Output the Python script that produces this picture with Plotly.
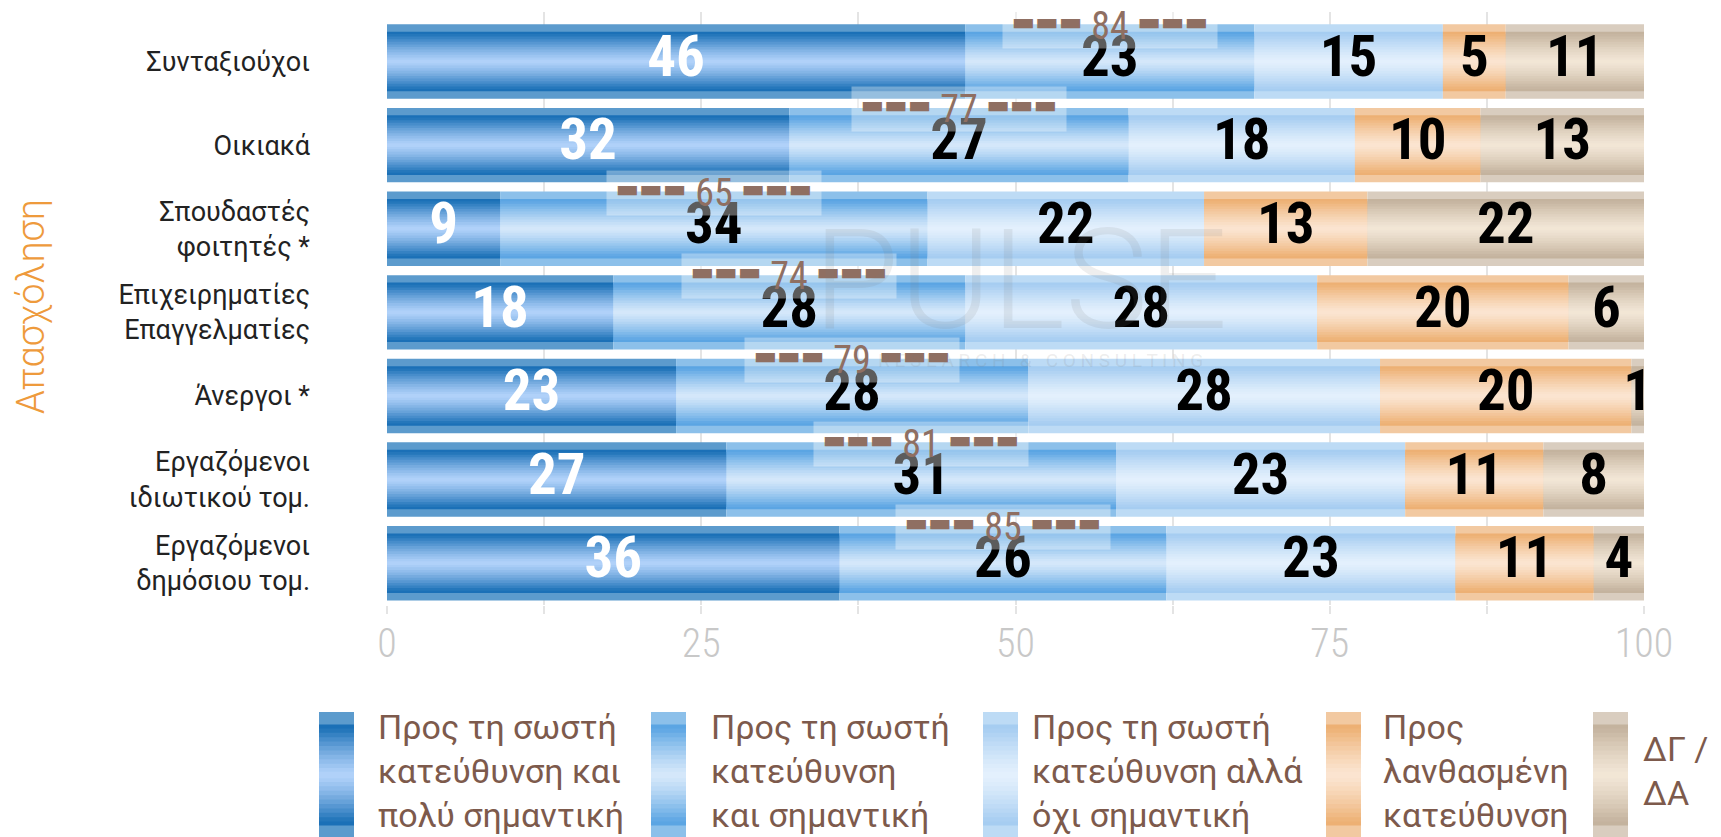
import plotly.graph_objects as go

# ---------------- data ----------------
categories = ["Συνταξιούχοι", "Οικιακά", "Σπουδαστές<br>φοιτητές *",
              "Επιχειρηματίες<br>Επαγγελματίες", "Άνεργοι *",
              "Εργαζόμενοι<br>ιδιωτικού τομ.", "Εργαζόμενοι<br>δημόσιου τομ."]
right_very_important = [46, 32, 9, 18, 23, 27, 36]
right_important = [23, 27, 34, 28, 28, 31, 26]
right_not_important = [15, 18, 22, 28, 28, 23, 23]
wrong_direction = [5, 10, 13, 20, 20, 11, 11]
dont_know = [11, 13, 22, 6, 1, 8, 4]
series_names = ["Προς τη σωστή<br>κατεύθυνση και<br>πολύ σημαντική",
                "Προς τη σωστή<br>κατεύθυνση<br>και σημαντική",
                "Προς τη σωστή<br>κατεύθυνση αλλά<br>όχι σημαντική",
                "Προς<br>λανθασμένη<br>κατεύθυνση",
                "ΔΓ /<br>ΔΑ"]
axis_title = "Απασχόληση"
x_ticks = [0, 25, 50, 75, 100]

series = [right_very_important, right_important, right_not_important,
          wrong_direction, dont_know]

# ---------------- styles ----------------
# (band, dark, light-centre) per series
palettes = [
    ("#5c9bcd", "#1b70b7", "#b4d4fb"),
    ("#8cc0ea", "#5ba5e3", "#d8e9fb"),
    ("#bddbf5", "#a6cdf1", "#e5f1fd"),
    ("#f2c9a1", "#edb074", "#fbe6d3"),
    ("#d9cdbf", "#c4b39e", "#f3e7d7"),
]
label_colors = ["white", "black", "black", "black", "black"]
COND = "Roboto Condensed, Liberation Sans Narrow, DejaVu Sans Condensed, Roboto, sans-serif"
REG = "Roboto, Open Sans, sans-serif"
BROWN = "#7d5a4c"

W, H = 1721, 837
ML, MR, MT, MB = 387, 77, 12, 232
PW, PH = W - ML - MR, H - MT - MB


def px2x(px):
    return (px - ML) / PW


def py2y(py):
    return 1 - (py - MT) / PH


def hex2rgb(h):
    h = h.lstrip("#")
    return tuple(int(h[i:i + 2], 16) for i in (0, 2, 4))


def mix(c1, c2, t):
    a, b = hex2rgb(c1), hex2rgb(c2)
    return "rgb(%d,%d,%d)" % tuple(round(a[i] + (b[i] - a[i]) * t) for i in range(3))


def grad_color(pal, d):
    band, dark, light = pal
    if d > 0.8:
        return mix(band, band, 0)
    t = min(d / 0.78, 1.0)
    return mix(light, dark, t ** 1.3)


BAR_W = 0.89
layers = [1.0, 0.8, 0.74, 0.67, 0.6, 0.53, 0.46, 0.39, 0.32, 0.25, 0.18, 0.11, 0.05]

# cumulative bases
bases = []
run = [0] * len(categories)
for s in series:
    bases.append(list(run))
    run = [r + v for r, v in zip(run, s)]

fig = go.Figure()

for d in layers:
    for si, s in enumerate(series):
        fig.add_trace(go.Bar(
            y=categories, x=s, base=bases[si], orientation="h",
            width=BAR_W * d,
            marker=dict(color=grad_color(palettes[si], d), line=dict(width=0)),
            hoverinfo="skip", showlegend=False))

# value labels
for si, s in enumerate(series):
    fig.add_trace(go.Scatter(
        y=categories, x=[b + v / 2 for b, v in zip(bases[si], s)],
        mode="text", text=[str(v) for v in s],
        textfont=dict(family=COND, size=57, color=label_colors[si], weight="bold"),
        hoverinfo="skip", showlegend=False, cliponaxis=True))

annotations = []
# total "correct direction" markers
totals = [a + b + c for a, b, c in zip(right_very_important, right_important, right_not_important)]
dash = '<span style="font-family:DejaVu Sans;font-size:25px;baseline-shift:9px">▬▬▬</span>'
for i, cat in enumerate(categories):
    annotations.append(dict(
        x=bases[1][i] + right_important[i] / 2, y=cat, xref="x", yref="y",
        text="%s\u00a0%d\u00a0%s" % (dash, totals[i], dash), showarrow=False, yshift=36,
        font=dict(family=COND, size=38, color="#8f6f62"),
        bgcolor="rgba(255,255,255,0.36)", borderpad=3, width=208, height=38))

# watermark
annotations.append(dict(x=px2x(1020), y=py2y(280), xref="paper", yref="paper",
                        text="PULSE", showarrow=False,
                        font=dict(family="Roboto", size=140, color="rgba(120,120,120,0.13)", weight=300)))
annotations.append(dict(x=px2x(1040), y=py2y(360), xref="paper", yref="paper",
                        text="R E S E A R C H   &   C O N S U L T I N G", showarrow=False,
                        font=dict(family="Roboto", size=19, color="rgba(120,120,120,0.15)")))

# y-axis title
annotations.append(dict(x=px2x(31), y=py2y(307), xref="paper", yref="paper",
                        xanchor="center", yanchor="middle",
                        text=axis_title, textangle=-90, showarrow=False,
                        font=dict(family=REG, size=38, color="#ee9a3c", weight=300)))

shapes = []
# legend
sw_x = [319, 651, 983, 1326, 1593]
tx_x = [376, 709, 1030, 1381, 1641]
sw_w = 35
cy, hh = 775, 63
for i in range(5):
    for d in layers:
        shapes.append(dict(type="rect", xref="paper", yref="paper",
                           x0=px2x(sw_x[i]), x1=px2x(sw_x[i] + sw_w),
                           y0=py2y(cy - hh * d), y1=py2y(cy + hh * d),
                           fillcolor=grad_color(palettes[i], d), line=dict(width=0), layer="above"))
    annotations.append(dict(x=px2x(tx_x[i]), y=py2y(771), xref="paper", yref="paper",
                            xanchor="left", yanchor="middle", align="left",
                            text=series_names[i], showarrow=False,
                            font=dict(family=REG, size=34, color=BROWN)))

fig.update_layout(
    width=W, height=H, barmode="overlay",
    margin=dict(l=ML, r=MR, t=MT, b=MB),
    plot_bgcolor="white", paper_bgcolor="white",
    showlegend=False, annotations=annotations, shapes=shapes,
    xaxis=dict(range=[0, 100], tickvals=x_ticks, showgrid=True, gridcolor="#e4e4e4", gridwidth=2,
               zeroline=False, ticks="outside", ticklen=8, tickcolor="#e4e4e4", tickwidth=2,
               minor=dict(dtick=12.5, showgrid=True, gridcolor="#e4e4e4", gridwidth=2,
                          ticks="outside", ticklen=8, tickcolor="#e4e4e4", tickwidth=2),
               tickfont=dict(family=COND, size=40, color="#c8c8c8", weight=300),
               ticklabelstandoff=-5, automargin=False, fixedrange=True),
    yaxis=dict(range=[6.5, -0.592], showgrid=False, zeroline=False, ticks="",
               ticklabelstandoff=76, automargin=False,
               tickfont=dict(family=REG, size=27, color="#222222"), fixedrange=True),
)

fig.write_html("out.html", config={"displayModeBar": False},
               post_script="document.body.style.margin='0px';")
